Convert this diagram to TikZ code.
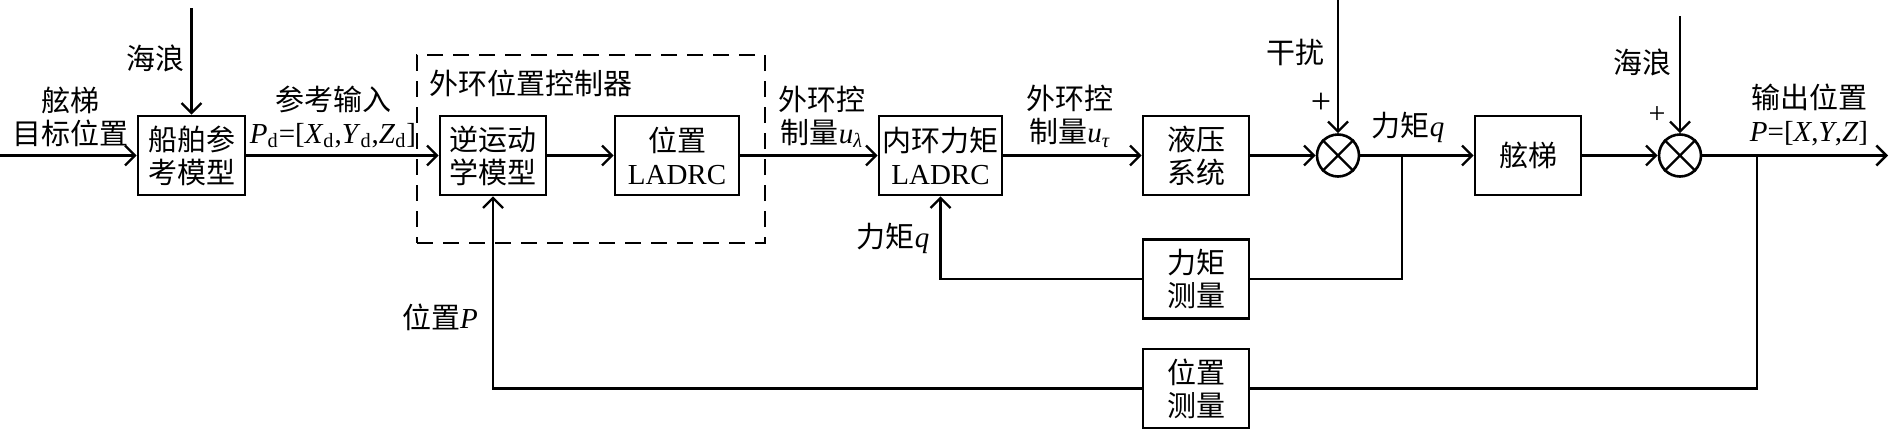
\documentclass[tikz,border=0pt]{standalone}
\usepackage{fontspec}
\setmainfont{Liberation Serif}
\newfontfamily\cjk{Noto Sans CJK SC}
\usetikzlibrary{arrows.meta}
\newcommand{\zhtxt}[1]{{\cjk #1}}
\begin{document}
\begin{tikzpicture}[x=0.5pt,y=-0.5pt,
  font=\fontsize{14.5}{16.5}\selectfont,
  blk/.style={draw,line width=1.3pt,minimum height=39.5pt,inner sep=0pt,align=center},
  sumnode/.style={draw,circle,line width=1.3pt,minimum size=21pt,inner sep=0pt},
  conn/.style={line width=1.2pt},
  arr/.style={conn,-{Straight Barb[length=5pt,width=10pt,line width=1.2pt]}},
  lbl/.style={inner sep=0pt,align=center},
  dashbox/.style={draw,line width=1.4pt,dash pattern=on 8pt off 5pt,inner sep=0pt}
]
\useasboundingbox (0,0) rectangle (1890,429);

% blocks
\node[blk,minimum width=53.5pt] (ref) at (191.5,155.5) {\zhtxt{船舶参}\\\zhtxt{考模型}};
\node[blk,minimum width=53pt] (inv) at (493,155.5) {\zhtxt{逆运动}\\\zhtxt{学模型}};
\node[blk,minimum width=62pt] (pos) at (677,155.5) {\zhtxt{位置}\\LADRC};
\node[blk,minimum width=61.5pt] (inner) at (940.5,155.5) {\zhtxt{内环力矩}\\LADRC};
\node[blk,minimum width=53pt] (hyd) at (1196,155.5) {\zhtxt{液压}\\\zhtxt{系统}};
\node[sumnode] (s1) at (1338,155.5) {};
\node[blk,minimum width=53pt] (lad) at (1528,155.5) {\zhtxt{舷梯}};
\node[sumnode] (s2) at (1680,155.5) {};
\node[blk,minimum width=53pt] (tm) at (1196,279) {\zhtxt{力矩}\\\zhtxt{测量}};
\node[blk,minimum width=53pt] (pm) at (1196,388.5) {\zhtxt{位置}\\\zhtxt{测量}};
\node[dashbox,minimum width=174pt,minimum height=94pt] (outer) at (591,149) {};

% crosses in summing junctions
\draw[conn] (s1.north west) -- (s1.south east) (s1.north east) -- (s1.south west);
\draw[conn] (s2.north west) -- (s2.south east) (s2.north east) -- (s2.south west);

% free ends
\coordinate (in) at (0,155.5);
\coordinate (w1) at (191.5,8);
\coordinate (d1) at (1338,0);
\coordinate (w2) at (1680,16);
\coordinate (out) at (1888,155.5);
\coordinate (b1) at (1402,155.5);
\coordinate (b2) at (1757,155.5);

% connectors
\draw[arr] (in) -- (ref);
\draw[arr] (w1) -- (ref);
\draw[arr] (ref) -- (inv);
\draw[arr] (inv) -- (pos);
\draw[arr] (pos) -- (inner);
\draw[arr] (inner) -- (hyd);
\draw[arr] (hyd) -- (s1);
\draw[arr] (d1) -- (s1);
\draw[arr] (s1) -- (lad);
\draw[arr] (lad) -- (s2);
\draw[arr] (w2) -- (s2);
\draw[arr] (s2) -- (out);
\draw[conn] (b1) |- (tm.east);
\draw[arr] (tm.west) -| (inner.south);
\draw[conn] (b2) |- (pm.east);
\draw[arr] (pm.west) -| (inv.south);

% labels
\node[lbl] (lw1) at (155,58) {\zhtxt{海浪}};
\node[lbl] (lin) at (70,116.5) {\zhtxt{舷梯}\\\zhtxt{目标位置}};
\node[lbl] (lref) at (333,117) {\zhtxt{参考输入}\\\textit{P}\textsubscript{d}=[\textit{X}\textsubscript{d},\textit{Y}\textsubscript{d},\textit{Z}\textsubscript{d}]};
\node[lbl] (lctl) at (531,83) {\zhtxt{外环位置控制器}};
\node[lbl] (lul) at (822,116.5) {\zhtxt{外环控}\\\zhtxt{制量}\textit{u}\textsubscript{\textit{λ}}};
\node[lbl] (lut) at (1070,116.5) {\zhtxt{外环控}\\\zhtxt{制量}\textit{u}\textsubscript{\textit{τ}}};
\node[lbl] (lq1) at (893,238) {\zhtxt{力矩}\textit{q}};
\node[lbl] (ld) at (1295,52) {\zhtxt{干扰}};
\node[lbl,font=\fontsize{18}{20}\selectfont] (lp1) at (1321,103) {+};
\node[lbl] (lq2) at (1408,127) {\zhtxt{力矩}\textit{q}};
\node[lbl] (lw2) at (1642,62) {\zhtxt{海浪}};
\node[lbl,font=\fontsize{15}{17}\selectfont] (lp2) at (1657,115) {+};
\node[lbl] (lout) at (1809,114.5) {\zhtxt{输出位置}\\\textit{P}=[\textit{X},\textit{Y},\textit{Z}]};
\node[lbl] (lpp) at (440,317) {\zhtxt{位置}\textit{P}};
\end{tikzpicture}
\end{document}
